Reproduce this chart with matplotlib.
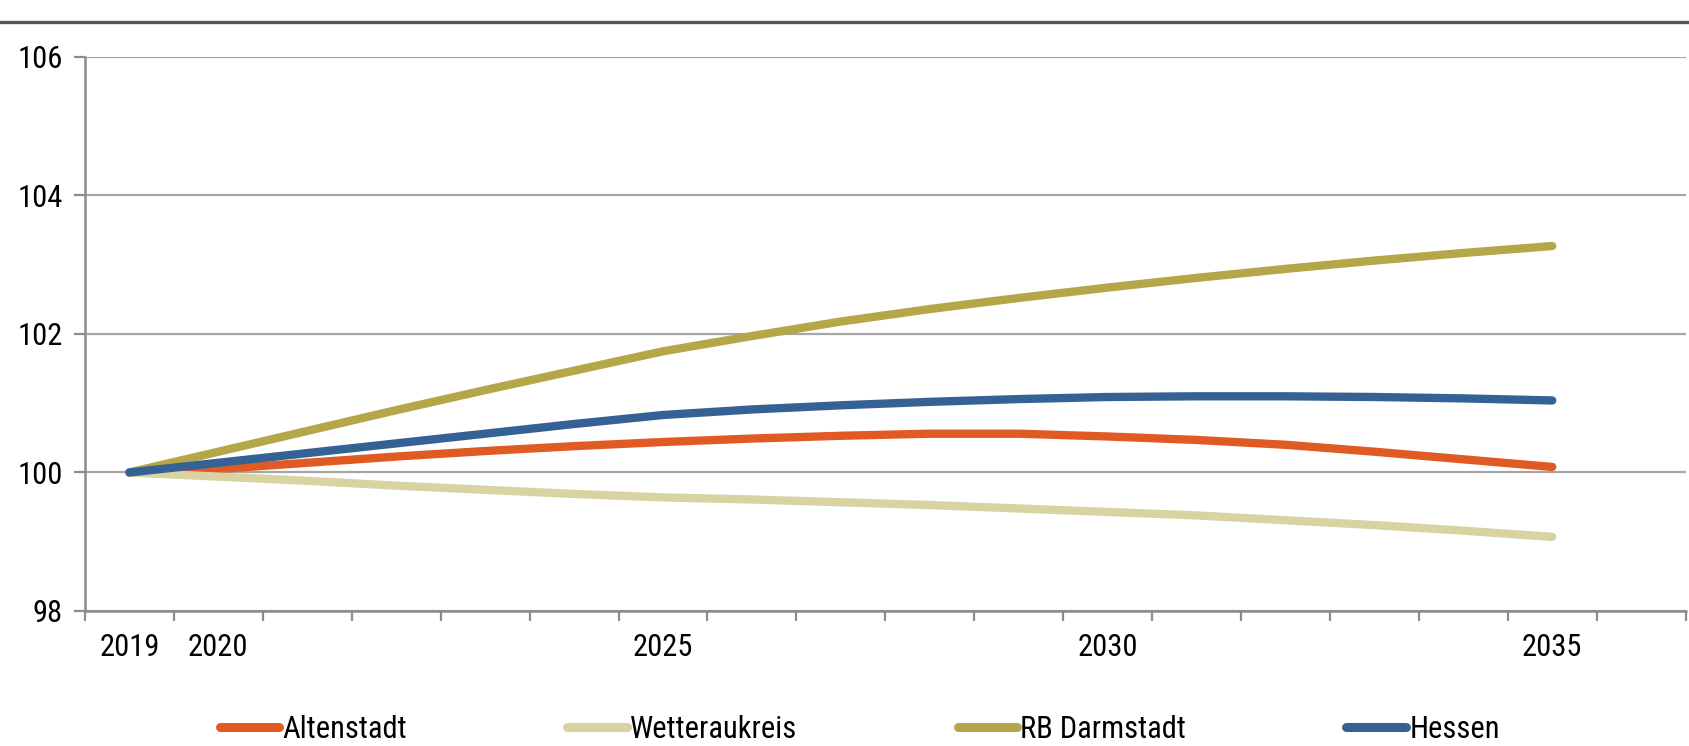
"""
Bevölkerungsentwicklung 2019-2035 (Index 2019 = 100)
Run: python plot.py
"""

import matplotlib

matplotlib.use("Agg")
import matplotlib.pyplot as plt
from matplotlib.lines import Line2D

years = list(range(2019, 2036))
shown_years = [2019, 2020, 2025, 2030, 2035]

altenstadt = [100.00, 100.05, 100.14, 100.23, 100.31, 100.38, 100.44, 100.49, 100.53,
              100.56, 100.56, 100.52, 100.47, 100.40, 100.30, 100.19, 100.08]
wetteraukreis = [100.00, 99.94, 99.88, 99.81, 99.75, 99.69, 99.64, 99.61, 99.57,
                 99.53, 99.48, 99.43, 99.38, 99.31, 99.24, 99.16, 99.07]
rb_darmstadt = [100.00, 100.30, 100.60, 100.90, 101.19, 101.47, 101.75, 101.97, 102.18,
                102.36, 102.52, 102.67, 102.81, 102.94, 103.06, 103.17, 103.27]
hessen = [100.00, 100.14, 100.28, 100.42, 100.56, 100.70, 100.83, 100.91, 100.97,
          101.02, 101.06, 101.09, 101.10, 101.10, 101.09, 101.07, 101.04]

series = [
    ("Altenstadt", altenstadt, "#E05A24"),
    ("Wetteraukreis", wetteraukreis, "#D8D3A0"),
    ("RB Darmstadt", rb_darmstadt, "#B5A64A"),
    ("Hessen", hessen, "#356295"),
]

FONT = ["Roboto Condensed", "Archivo Narrow", "Liberation Sans", "DejaVu Sans"]
FS = 22
plt.rcParams["font.family"] = FONT

fig = plt.figure(figsize=(16.89, 7.46), dpi=100)
ax = fig.add_axes([0.0503, 0.181, 0.9477, 0.7426])

# category axis: one slot per year plus one empty slot at the end
n_slots = len(years) + 1
xs = [i + 0.5 for i in range(len(years))]
for name, vals, color in series:
    ax.plot(xs, vals, color=color, lw=6.0, solid_capstyle="round",
            solid_joinstyle="round", label=name, zorder=3)

ax.set_xlim(0, n_slots)
ax.set_ylim(98, 106)
ax.set_yticks([98, 100, 102, 104, 106])
ax.grid(True, axis="y", color="#a6a6a6", lw=1.6, zorder=1)

ax.set_xticks(range(n_slots + 1))
ax.set_xticklabels([])
ax.set_xticks([xs[years.index(y)] for y in shown_years], minor=True)
ax.set_xticklabels([str(y) for y in shown_years], minor=True)
ax.tick_params(axis="x", which="major", length=7, width=1.6, color="#8c8c8c",
               direction="out")
ax.tick_params(axis="x", which="minor", length=0, pad=16, labelsize=FS)
ax.tick_params(axis="y", length=8, width=1.6, color="#8c8c8c", pad=8, labelsize=FS)

for side in ["top", "right"]:
    ax.spines[side].set_visible(False)
for side in ["left", "bottom"]:
    ax.spines[side].set_color("#8c8c8c")
    ax.spines[side].set_linewidth(1.8)

handles = [Line2D([0], [0], color=c, lw=6.5, solid_capstyle="round") for _, _, c in series]
fig.legend(handles, [s[0] for s in series], loc="center left",
           bbox_to_anchor=(0.130, 0.022), ncol=4, frameon=False, fontsize=FS,
           handlelength=1.95, handletextpad=0.1, columnspacing=5.25,
           borderaxespad=0, borderpad=0)

# dark rule under the (cut-off) heading
fig.add_artist(Line2D([0, 1], [1 - 22 / 746, 1 - 22 / 746], color="#555555", lw=2.4,
                      transform=fig.transFigure))

fig.savefig("out.png", dpi=100)
